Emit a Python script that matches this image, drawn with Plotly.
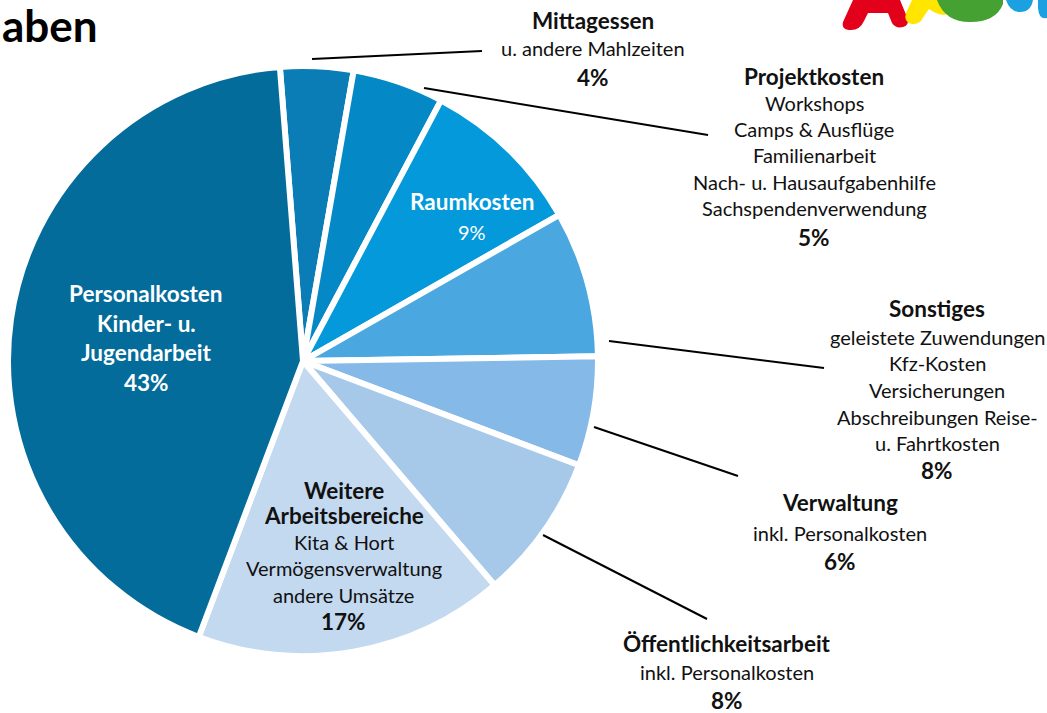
import plotly.graph_objects as go

W, H = 1047, 713

# ---- data ----
categories = [
    "Mittagessen",
    "Projektkosten",
    "Raumkosten",
    "Sonstiges",
    "Verwaltung",
    "Öffentlichkeitsarbeit",
    "Weitere Arbeitsbereiche",
    "Personalkosten Kinder- u. Jugendarbeit",
]
shares = [4, 5, 9, 8, 6, 8, 17, 43]
colors = ["#0A7DB6", "#0589C6", "#0399DA", "#4BA7E0", "#85B9E7", "#A6C9EA", "#C3D9F0", "#046C9A"]

FONT = "Lato"
TXT = "#111111"
REG = 20
BOLD = 22.5


def px(x):
    return x / W


def py(y):
    return 1 - y / H


fig = go.Figure()

cx, cy, r = 303, 361, 295
fig.add_trace(go.Pie(
    labels=categories,
    values=shares,
    sort=False,
    direction="clockwise",
    rotation=-4.5,
    marker=dict(colors=colors, line=dict(color="white", width=6)),
    textinfo="none",
    hovertemplate="%{label}: %{value}%<extra></extra>",
    showlegend=False,
    domain=dict(x=[px(cx - r), px(cx + r)], y=[py(cy + r), py(cy - r)]),
))

annotations = []


def block(xc, lines, color=TXT):
    for text, y, bold in lines:
        annotations.append(dict(
            x=px(xc), y=py(y), xref="paper", yref="paper",
            xanchor="center", yanchor="middle", showarrow=False,
            text=f"<b>{text}</b>" if bold else text,
            font=dict(family=FONT, size=BOLD if bold else REG, color=color),
        ))


block(593, [("Mittagessen", 20, True), ("u. andere Mahlzeiten", 48, False), (f"{shares[0]}%", 78, True)])
block(814, [("Projektkosten", 76, True), ("Workshops", 103, False), ("Camps &amp; Ausflüge", 129, False),
            ("Familienarbeit", 155, False), ("Nach- u. Hausaufgabenhilfe", 182, False),
            ("Sachspendenverwendung", 208, False), (f"{shares[1]}%", 237, True)])
block(472, [("Raumkosten", 201, True), (f"{shares[2]}%", 232, False)], color="white")
block(937, [("Sonstiges", 308, True), ("geleistete Zuwendungen", 337, False), ("Kfz-Kosten", 363, False),
            ("Versicherungen", 390, False), ("Abschreibungen Reise-", 417, False),
            ("u. Fahrtkosten", 443, False), (f"{shares[3]}%", 470, True)])
block(840, [("Verwaltung", 502, True), ("inkl. Personalkosten", 533, False), (f"{shares[4]}%", 561, True)])
block(727, [("Öffentlichkeitsarbeit", 643, True), ("inkl. Personalkosten", 672, False), (f"{shares[5]}%", 700, True)])
block(344, [("Weitere", 490, True), ("Arbeitsbereiche", 515, True), ("Kita &amp; Hort", 542, False),
            ("Vermögensverwaltung", 568, False), ("andere Umsätze", 595, False), (f"{shares[6]}%", 621, True)])
block(146, [("Personalkosten", 293, True), ("Kinder- u.", 323, True), ("Jugendarbeit", 352, True),
            (f"{shares[7]}%", 382, True)], color="white")

# title (cropped in original)
annotations.append(dict(
    x=0, y=py(25), xref="paper", yref="paper", xanchor="left", yanchor="middle",
    showarrow=False, text="<b>aben</b>", font=dict(family=FONT, size=44, color="#000000"),
))

shapes = []
# leader lines
leaders = [((312, 59), (482, 51)), ((424, 88), (708, 135)), ((609, 341), (824, 368)),
           ((594, 427), (738, 476)), ((543, 535), (707, 619))]
for (x0, y0), (x1, y1) in leaders:
    shapes.append(dict(type="line", xref="paper", yref="paper", x0=px(x0), y0=py(y0), x1=px(x1), y1=py(y1),
                       line=dict(color="black", width=2)))


def path(pts_str):
    out = []
    for tok in pts_str.split():
        if "," in tok:
            a, b = tok.split(",")
            out.append(f"{px(float(a)):.5f},{py(float(b)):.5f}")
        else:
            out.append(tok)
    return " ".join(out)


logo = [
    ("M 853,0 L 843,22 Q 841,30 851,30 Q 860,30 864,21 L 868,13 L 888,13 L 892,23 Q 896,29 903,27 Q 910,25 907,17 L 900,0 Z", "#E2001A"),
    ("M 912,0 L 906,13 Q 903,22 912,24 Q 920,25 924,16 L 929,9 Q 940,17 949,14 Q 958,10 955,0 Z", "#FFE500"),
    ("M 937,0 Q 945,22 970,22 Q 996,22 1003,4 L 1003,0 Z", "#45A132"),
    ("M 1006,0 Q 1010,12 1020,12 Q 1031,12 1033,0 Z", "#1BA1E2"),
    ("M 1038,0 L 1047,0 L 1047,18 Q 1039,20 1038,8 Z", "#1BA1E2"),
]
for d, c in logo:
    shapes.append(dict(type="path", xref="paper", yref="paper", path=path(d),
                       fillcolor=c, line=dict(width=0)))

fig.update_layout(
    width=W, height=H,
    margin=dict(l=0, r=0, t=0, b=0),
    paper_bgcolor="white", plot_bgcolor="white",
    annotations=annotations, shapes=shapes,
    font=dict(family=FONT),
)

fig.write_html("out.html")
